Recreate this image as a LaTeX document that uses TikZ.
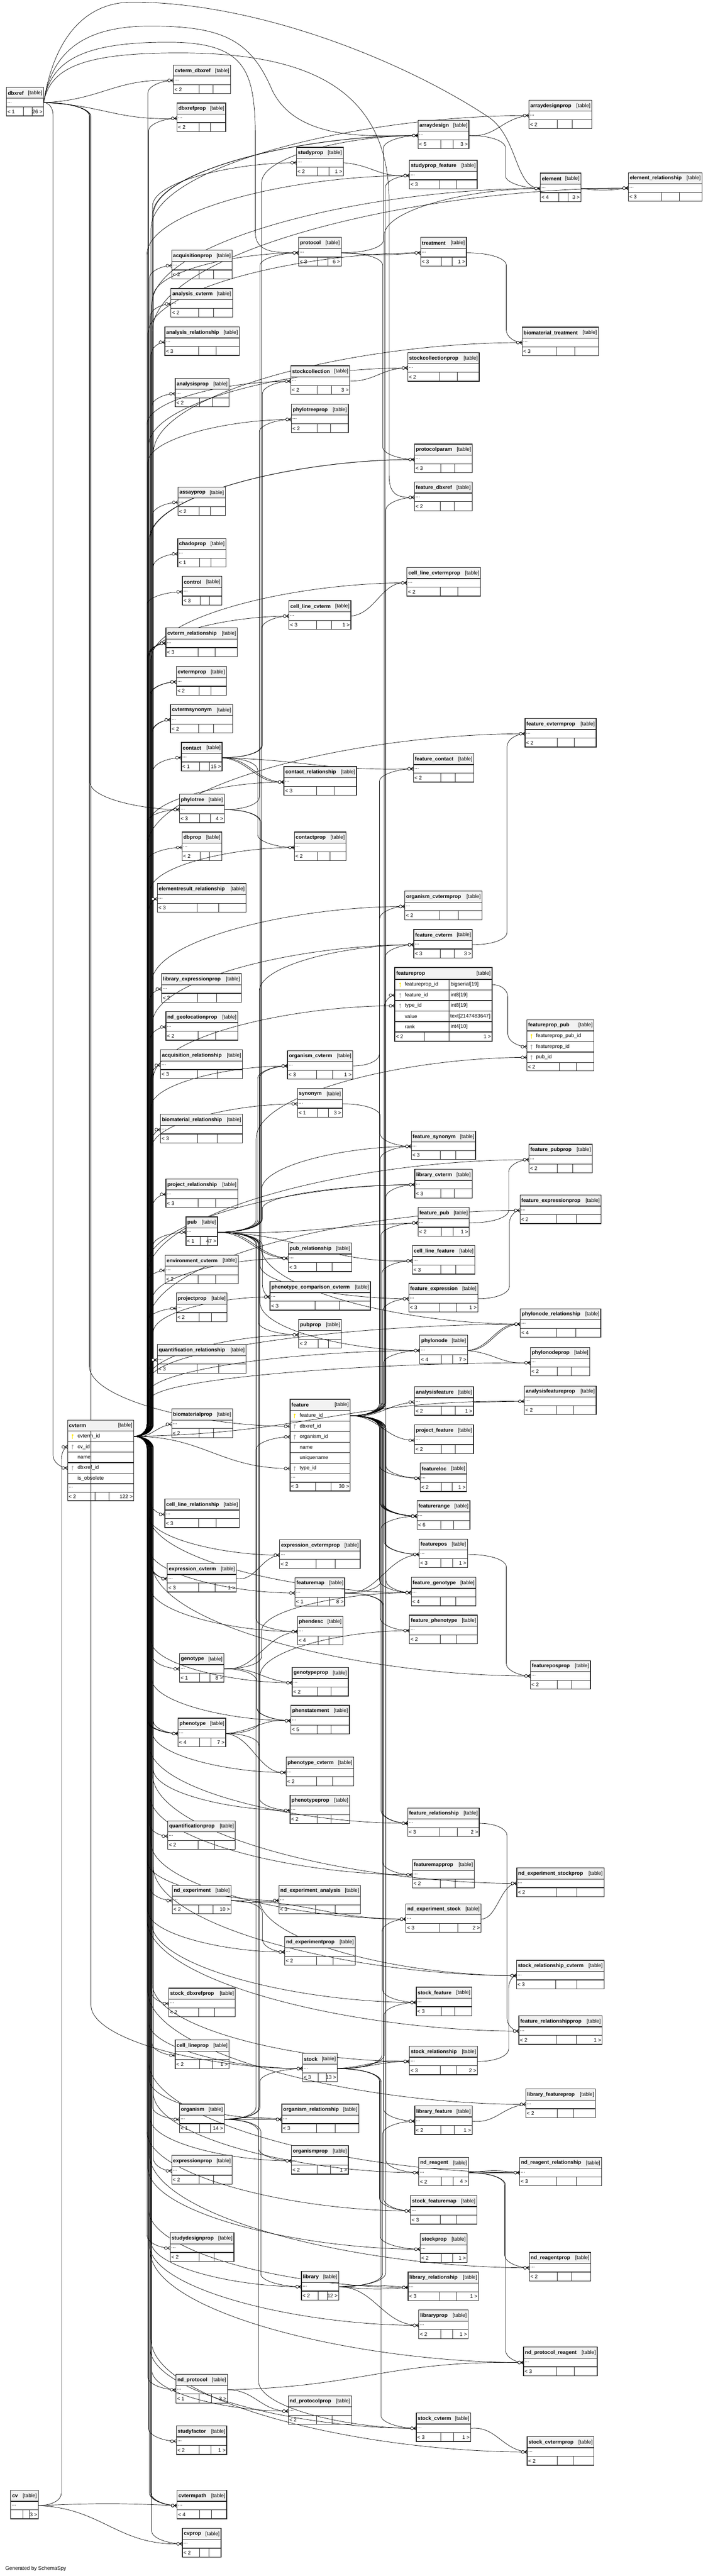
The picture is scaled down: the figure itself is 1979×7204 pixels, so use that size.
\documentclass[tikz,border=0pt]{standalone}
\usepackage{fontspec}
\setmainfont{Liberation Sans}
\tikzset{
  hdrfill/.style={fill=black!5},
  frame/.style={draw=black!85,line width=1.8pt},
  rowline/.style={draw=black!85,line width=1.8pt},
  celline/.style={draw=black!85,line width=1.1pt},
  fkline/.style={draw=black,line width=1.0pt},
  crowline/.style={draw=black,line width=1.0pt},
  txt/.style={inner sep=0pt,outer sep=0pt,font=\fontsize{14.5}{16}\selectfont},
}
\newif\ifdrawtbl
\newcommand\tbl[6]{%
 \ifdrawtbl
  \pgfmathsetmacro\xa{#2+0.45*(#4-#2)}%
  \pgfmathsetmacro\xb{#2+0.69*(#4-#2)}%
  \fill[hdrfill] (#2,#3) rectangle (#4,#3+31);
  \draw[rowline] (#2,#3+31) -- (#4,#3+31) (#2,#3+55) -- (#4,#3+55);
  \draw[celline] (\xa,#3+55) -- (\xa,#3+80) (\xb,#3+55) -- (\xb,#3+80);
  \draw[frame] (#2,#3) rectangle (#4,#3+80);
  \node[txt,anchor=west] (#1) at (#2+4,#3+16) {\bfseries\detokenize{#1}};
  \node[txt,anchor=east] (#1-h) at (#4-4,#3+16) {[table]};
  \node[txt,anchor=west] (#1-d) at (#2+3,#3+42) {...};
  \ifx\relax#5\relax\else\node[txt,anchor=west] (#1-l) at (#2+3,#3+68) {< #5};\fi
  \ifx\relax#6\relax\else\node[txt,anchor=east] (#1-r) at (#4-3,#3+68) {#6 >};\fi
 \else
  \coordinate (#1-i) at (#2,#3+43);
  \coordinate (#1-o) at (#4,#3+43);
 \fi
}
\newcommand\keyi[3]{\fill[#3] (#1,#2-3.5) circle[radius=2.7]; \draw[#3,line width=1.5pt] (#1,#2-2) -- (#1,#2+7);}
\newcommand\crow[1]{%
  \draw[crowline] (#1) ++(-8,0) -- ++(8,5) (#1) ++(-8,0) -- ++(8,-5) (#1) ++(-8,0) -- (#1);
  \draw[crowline,fill=white] (#1) ++(-12,0) circle[radius=4];}
\makeatletter
\newcommand\allmarks{}
\newcommand\addmark[1]{\g@addto@macro\allmarks{\crow{#1}}}
\makeatother
\newcount\fkn
\newcommand\fk[3]{%
 \global\advance\fkn by 1\relax
 \pgfpointanchor{#1}{center}\pgfgetlastxy{\fax}{\fay}%
 \pgfpointanchor{#2}{center}\pgfgetlastxy{\fbx}{\fby}%
 \pgfmathsetmacro\Ax{\fax}\pgfmathsetmacro\Ay{\fay}%
 \pgfmathsetmacro\Bx{\fbx}\pgfmathsetmacro\By{\fby}%
 \pgfmathsetmacro\Md{mod(\the\fkn,9)}%
 \pgfmathsetmacro\Cx{#3+(\Md-4)*2.2}%
 \pgfmathsetmacro\Dy{\By-\Ay}%
 \pgfmathsetmacro\ADy{abs(\Dy)}%
 \ifdim\ADy pt<110pt
   \pgfmathsetmacro\K{0.45*(\Bx-\Ax)}%
   \pgfmathsetmacro\Off{(mod(\the\fkn,3)-1)*7}%
   \pgfmathsetmacro\Pa{\Ax+\K}\pgfmathsetmacro\Pb{\Ay+\Off}%
   \pgfmathsetmacro\Pc{\Bx-\K}\pgfmathsetmacro\Pd{\By+\Off}%
   \draw[fkline] (\Ax pt,\Ay pt) .. controls (\Pa pt,\Pb pt) and (\Pc pt,\Pd pt) .. (\Bx pt,\By pt);
 \else
   \pgfmathsetmacro\S{\Dy>0 ? 1 : -1}%
   \pgfmathsetmacro\Ra{min(\ADy/2,max(35,0.3*(\Cx-\Ax)))}%
   \pgfmathsetmacro\Rb{min(\ADy/2,max(35,0.3*(\Bx-\Cx)))}%
   \pgfmathsetmacro\Qa{\Ax+0.6*(\Cx-\Ax)}%
   \pgfmathsetmacro\Qb{\Ay+\S*\Ra*0.45}%
   \pgfmathsetmacro\Qc{\Ay+\S*\Ra}%
   \pgfmathsetmacro\Qd{\By-\S*\Rb}%
   \pgfmathsetmacro\Qe{\By-\S*\Rb*0.45}%
   \pgfmathsetmacro\Qf{\Cx+0.55*(\Bx-\Cx)}%
   \draw[fkline] (\Ax pt,\Ay pt) .. controls (\Qa pt,\Ay pt) and (\Cx pt,\Qb pt) .. (\Cx pt,\Qc pt) -- (\Cx pt,\Qd pt) .. controls (\Cx pt,\Qe pt) and (\Qf pt,\By pt) .. (\Bx pt,\By pt);
 \fi
 \addmark{#2}%
}
\newcommand\Ce[1]{\fk{cvterm-o}{#1-i}{420}}
\newcommand\Pe[3]{\fk{#1-o}{#2-i}{#3}}
\newcommand\alltables{%
\tbl{dbxref}{18}{244}{122}{1}{26}
\tbl{cv}{30}{6964}{107}{}{3}
\tbl{cvterm_dbxref}{485}{182}{645}{2}{}
\tbl{dbxrefprop}{495}{288}{631}{2}{}
\tbl{acquisitionprop}{480}{700}{649}{2}{}
\tbl{analysis_cvterm}{478}{807}{650}{2}{}
\tbl{analysis_relationship}{461}{914}{669}{3}{}
\tbl{analysisprop}{490}{1058}{640}{2}{}
\tbl{assayprop}{498}{1362}{630}{2}{}
\tbl{chadoprop}{497}{1506}{632}{1}{}
\tbl{control}{510}{1612}{620}{3}{}
\tbl{cvterm_relationship}{464}{1756}{664}{3}{}
\tbl{cvtermprop}{493}{1864}{633}{2}{}
\tbl{cvtermsynonym}{477}{1970}{650}{2}{}
\tbl{contact}{507}{2076}{621}{1}{15}
\tbl{phylotree}{502}{2221}{627}{3}{4}
\tbl{dbprop}{509}{2327}{620}{2}{}
\tbl{elementresult_relationship}{440}{2471}{688}{3}{}
\tbl{library_expressionprop}{452}{2723}{675}{2}{}
\tbl{nd_geolocationprop}{464}{2829}{665}{2}{}
\tbl{acquisition_relationship}{449}{2936}{678}{3}{}
\tbl{biomaterial_relationship}{449}{3116}{678}{3}{}
\tbl{project_relationship}{464}{3297}{665}{3}{}
\tbl{pub}{520}{3403}{608}{1}{47}
\tbl{environment_cvterm}{462}{3510}{666}{2}{}
\tbl{projectprop}{493}{3616}{635}{2}{}
\tbl{quantification_relationship}{440}{3760}{688}{3}{}
\tbl{biomaterialprop}{480}{3940}{650}{2}{}
\tbl{cell_line_relationship}{461}{4192}{669}{3}{}
\tbl{expression_cvterm}{468}{4372}{661}{3}{1}
\tbl{genotype}{502}{4624}{626}{1}{8}
\tbl{phenotype}{498}{4805}{631}{4}{7}
\tbl{quantificationprop}{469}{5092}{658}{2}{}
\tbl{nd_experiment}{482}{5272}{646}{2}{10}
\tbl{stock_dbxrefprop}{472}{5560}{658}{2}{}
\tbl{cell_lineprop}{490}{5705}{640}{2}{1}
\tbl{organism}{502}{5884}{627}{1}{14}
\tbl{expressionprop}{480}{6028}{649}{2}{}
\tbl{studydesignprop}{476}{6244}{654}{2}{}
\tbl{nd_protocol}{492}{6640}{636}{1}{3}
\tbl{studyfactor}{493}{6784}{634}{2}{1}
\tbl{cvtermpath}{495}{6964}{634}{4}{}
\tbl{cvprop}{510}{7071}{618}{2}{}
\tbl{studyprop}{829}{412}{960}{2}{1}
\tbl{protocol}{835}{664}{954}{3}{6}
\tbl{stockcollection}{813}{1023}{978}{2}{3}
\tbl{phylotreeprop}{815}{1130}{974}{2}{}
\tbl{cell_line_cvterm}{808}{1680}{981}{3}{1}
\tbl{contact_relationship}{794}{2144}{997}{3}{}
\tbl{contactprop}{823}{2327}{968}{2}{}
\tbl{organism_cvterm}{804}{2938}{986}{3}{1}
\tbl{synonym}{832}{3044}{957}{1}{3}
\tbl{pub_relationship}{806}{3476}{983}{3}{}
\tbl{phenotype_comparison_cvterm}{755}{3584}{1036}{3}{}
\tbl{pubprop}{835}{3690}{955}{2}{}
\tbl{expression_cvtermprop}{782}{4306}{1007}{2}{}
\tbl{featuremap}{825}{4412}{964}{1}{8}
\tbl{phendesc}{832}{4520}{959}{4}{}
\tbl{genotypeprop}{817}{4663}{974}{2}{}
\tbl{phenstatement}{813}{4769}{977}{5}{}
\tbl{phenotype_cvterm}{800}{4914}{989}{2}{}
\tbl{phenotypeprop}{811}{5020}{978}{2}{}
\tbl{nd_experiment_analysis}{780}{5272}{1008}{3}{}
\tbl{nd_experimentprop}{796}{5416}{993}{2}{}
\tbl{stock}{846}{5742}{943}{3}{13}
\tbl{organism_relationship}{788}{5884}{1003}{3}{}
\tbl{organismprop}{815}{6000}{974}{2}{1}
\tbl{library}{843}{6352}{947}{2}{12}
\tbl{nd_protocolprop}{806}{6700}{983}{2}{}
\tbl{arraydesign}{1169}{336}{1311}{5}{3}
\tbl{studyprop_feature}{1145}{448}{1334}{3}{}
\tbl{treatment}{1176}{664}{1304}{3}{1}
\tbl{stockcollectionprop}{1140}{986}{1340}{2}{}
\tbl{protocolparam}{1159}{1242}{1321}{3}{}
\tbl{feature_dbxref}{1159}{1348}{1320}{2}{}
\tbl{cell_line_cvtermprop}{1138}{1587}{1344}{2}{}
\tbl{feature_contact}{1156}{2107}{1325}{2}{}
\tbl{organism_cvtermprop}{1132}{2492}{1348}{2}{}
\tbl{feature_cvterm}{1157}{2599}{1321}{3}{3}
\tbl{feature_synonym}{1150}{3163}{1330}{3}{}
\tbl{library_cvterm}{1160}{3270}{1320}{3}{}
\tbl{feature_pub}{1169}{3377}{1312}{2}{1}
\tbl{cell_line_feature}{1153}{3483}{1328}{3}{}
\tbl{feature_expression}{1143}{3589}{1336}{3}{1}
\tbl{phylonode}{1174}{3734}{1307}{4}{7}
\tbl{analysisfeature}{1159}{3878}{1324}{2}{1}
\tbl{project_feature}{1159}{3985}{1324}{2}{}
\tbl{featureloc}{1175}{4091}{1305}{2}{1}
\tbl{featurerange}{1166}{4197}{1314}{6}{}
\tbl{featurepos}{1172}{4304}{1307}{3}{1}
\tbl{feature_genotype}{1150}{4411}{1331}{4}{}
\tbl{feature_phenotype}{1145}{4517}{1335}{2}{}
\tbl{feature_relationship}{1140}{5056}{1340}{3}{2}
\tbl{featuremapprop}{1153}{5200}{1326}{2}{}
\tbl{nd_experiment_stock}{1135}{5324}{1345}{3}{2}
\tbl{stock_feature}{1164}{5557}{1319}{3}{}
\tbl{stock_relationship}{1145}{5722}{1335}{3}{2}
\tbl{library_feature}{1160}{5889}{1320}{2}{1}
\tbl{nd_reagent}{1171}{6033}{1310}{2}{4}
\tbl{stock_featuremap}{1148}{6140}{1333}{3}{}
\tbl{stockprop}{1175}{6247}{1306}{2}{1}
\tbl{library_relationship}{1141}{6354}{1338}{3}{1}
\tbl{libraryprop}{1171}{6460}{1309}{2}{1}
\tbl{stock_cvterm}{1164}{6748}{1316}{3}{1}
\tbl{arraydesignprop}{1479}{280}{1655}{2}{}
\tbl{element}{1511}{484}{1624}{4}{3}
\tbl{element_relationship}{1757}{483}{1963}{3}{}
\tbl{biomaterial_treatment}{1460}{915}{1673}{3}{}
\tbl{feature_cvtermprop}{1468}{2009}{1667}{2}{}
\tbl{feature_pubprop}{1479}{3200}{1656}{2}{}
\tbl{feature_expressionprop}{1454}{3342}{1681}{2}{}
\tbl{phylonode_relationship}{1455}{3660}{1680}{4}{}
\tbl{phylonodeprop}{1483}{3768}{1649}{2}{}
\tbl{analysisfeatureprop}{1466}{3876}{1667}{2}{}
\tbl{featureposprop}{1483}{4644}{1651}{2}{}
\tbl{nd_experiment_stockprop}{1445}{5224}{1689}{2}{}
\tbl{stock_relationship_cvterm}{1444}{5482}{1689}{3}{}
\tbl{feature_relationshipprop}{1451}{5637}{1684}{2}{1}
\tbl{library_featureprop}{1470}{5842}{1665}{2}{}
\tbl{nd_reagent_relationship}{1453}{6033}{1682}{3}{}
\tbl{nd_reagentprop}{1480}{6299}{1652}{2}{}
\tbl{nd_protocol_reagent}{1464}{6564}{1670}{3}{}
\tbl{stock_cvtermprop}{1474}{6814}{1661}{2}{}
}
\begin{document}
\begin{tikzpicture}[x=1pt,y=-1pt]
\useasboundingbox (0,0) rectangle (1979,7204);
\fill[white] (0,0) rectangle (1979,7204);
% ---- pass 1: coordinates
\drawtblfalse
\alltables
\coordinate (featureprop-o) at (1376,2753.75);
\coordinate (featureprop-feat) at (1104,2783.25);
\coordinate (featureprop-type) at (1104,2812.75);
\coordinate (featureprop_pub-fp) at (1473,2927.25);
\coordinate (featureprop_pub-pub) at (1473,2957);
\coordinate (feature-o) at (979,3959.25);
\coordinate (feature-dbx) at (811,3988.75);
\coordinate (feature-org) at (811,4018.25);
\coordinate (feature-type) at (811,4106.75);
\coordinate (cvterm-o) at (374,4016.75);
\coordinate (cvterm-cv) at (189,4046.25);
\coordinate (cvterm-dbx) at (189,4105.25);
% ================= connectors
\fk{dbxref-o}{cvterm-dbx}{155}
\fk{dbxref-o}{cvterm_dbxref-i}{300}
\fk{dbxref-o}{dbxrefprop-i}{300}
\fk{dbxref-o}{feature-dbx}{250}
\fk{dbxref-o}{phylotree-i}{250}
\fk{dbxref-o}{stock-i}{250}
\draw[fkline] (dbxref-o) .. controls (150,110) and (235,6) .. (370,6) .. controls (720,6) and (1130,170) .. (1370,330) .. controls (1450,390) and (1440,527) .. (element-i);
\draw[fkline] (dbxref-o) .. controls (145,140) and (240,73) .. (420,73) .. controls (620,73) and (700,110) .. (760,250) .. controls (830,400) and (1050,379) .. (arraydesign-i);
\draw[fkline] (dbxref-o) .. controls (140,170) and (230,118) .. (470,118) .. controls (690,118) and (712,200) .. (714,380) -- (714,650) .. controls (714,707) and (770,707) .. (protocol-i);
\draw[fkline] (dbxref-o) .. controls (140,190) and (230,148) .. (500,148) .. controls (850,148) and (1085,240) .. (1088,560) -- (1088,1330) .. controls (1088,1391) and (1120,1391) .. (feature_dbxref-i);
\addmark{element-i}\addmark{arraydesign-i}\addmark{protocol-i}\addmark{feature_dbxref-i}
\fk{cv-o}{cvterm-cv}{165}
\fk{cv-o}{cvtermpath-i}{300}
\fk{cv-o}{cvprop-i}{300}
\Ce{cvterm_dbxref}\Ce{dbxrefprop}\Ce{acquisitionprop}\Ce{analysis_cvterm}
\Ce{analysis_relationship}\Ce{analysisprop}\Ce{assayprop}\Ce{chadoprop}\Ce{control}
\Ce{cvterm_relationship}\Ce{cvterm_relationship}\Ce{cvterm_relationship}
\Ce{cvtermprop}\Ce{cvtermprop}\Ce{cvtermsynonym}\Ce{cvtermsynonym}
\Ce{contact}\Ce{phylotree}\Ce{dbprop}\Ce{elementresult_relationship}
\Ce{library_expressionprop}\Ce{nd_geolocationprop}\Ce{acquisition_relationship}
\Ce{biomaterial_relationship}\Ce{project_relationship}\Ce{pub}\Ce{environment_cvterm}
\Ce{projectprop}\Ce{quantification_relationship}\Ce{biomaterialprop}\Ce{cell_line_relationship}
\Ce{expression_cvterm}\Ce{expression_cvterm}\Ce{genotype}
\Ce{phenotype}\Ce{phenotype}\Ce{phenotype}\Ce{phenotype}
\Ce{quantificationprop}\Ce{nd_experiment}\Ce{stock_dbxrefprop}\Ce{cell_lineprop}
\Ce{organism}\Ce{expressionprop}\Ce{studydesignprop}\Ce{nd_protocol}\Ce{studyfactor}
\Ce{cvtermpath}\Ce{cvtermpath}\Ce{cvtermpath}\Ce{cvprop}
\Ce{studyprop}\Ce{protocol}\Ce{stockcollection}\Ce{phylotreeprop}\Ce{cell_line_cvterm}
\Ce{contact_relationship}\Ce{contactprop}\Ce{organism_cvterm}\Ce{synonym}\Ce{pub_relationship}
\Ce{phenotype_comparison_cvterm}\Ce{pubprop}\fk{cvterm-o}{feature-type}{420}
\Ce{expression_cvtermprop}\Ce{featuremap}\Ce{phendesc}\Ce{genotypeprop}\Ce{phenstatement}
\Ce{phenotype_cvterm}\Ce{phenotypeprop}\Ce{nd_experiment_analysis}\Ce{nd_experimentprop}
\Ce{stock}\Ce{organism_relationship}\Ce{organismprop}\Ce{library}\Ce{nd_protocolprop}
\Ce{arraydesign}\Ce{arraydesign}\Ce{studyprop_feature}\Ce{treatment}\Ce{stockcollectionprop}
\Ce{protocolparam}\Ce{protocolparam}\Ce{cell_line_cvtermprop}\Ce{organism_cvtermprop}
\Ce{feature_cvterm}\fk{cvterm-o}{featureprop-type}{420}\Ce{library_cvterm}\Ce{phylonode}
\Ce{feature_genotype}\Ce{feature_relationship}\Ce{featuremapprop}\Ce{nd_experiment_stock}
\Ce{stock_feature}\Ce{stock_relationship}\Ce{nd_reagent}\Ce{stock_featuremap}\Ce{stockprop}
\Ce{library_relationship}\Ce{libraryprop}\Ce{stock_cvterm}
\Ce{arraydesignprop}\Ce{element}\Ce{element_relationship}\Ce{biomaterial_treatment}
\Ce{feature_cvtermprop}\Ce{feature_pubprop}\Ce{feature_expressionprop}\Ce{phylonode_relationship}
\Ce{phylonodeprop}\Ce{analysisfeatureprop}\Ce{featureposprop}\Ce{nd_experiment_stockprop}
\Ce{stock_relationship_cvterm}\Ce{feature_relationshipprop}\Ce{library_featureprop}
\Ce{nd_reagent_relationship}\Ce{nd_reagentprop}\Ce{nd_protocol_reagent}\Ce{stock_cvtermprop}
\Pe{pub}{feature_pub}{725}\Pe{pub}{feature_synonym}{725}\Pe{pub}{library_cvterm}{725}
\fk{pub-o}{featureprop_pub-pub}{725}
\Pe{pub}{pub_relationship}{725}\Pe{pub}{pub_relationship}{725}\Pe{pub}{pubprop}{725}
\Pe{pub}{feature_cvterm}{725}\Pe{pub}{feature_expression}{725}\Pe{pub}{cell_line_feature}{725}
\Pe{pub}{cell_line_cvterm}{725}\Pe{pub}{phenotype_comparison_cvterm}{725}\Pe{pub}{phendesc}{725}
\Pe{pub}{phenstatement}{725}\Pe{pub}{organism_cvterm}{725}\Pe{pub}{stock_cvterm}{725}
\Pe{pub}{stock_relationship_cvterm}{725}\Pe{pub}{protocol}{725}
\fk{feature-o}{featureprop-feat}{1070}
\Pe{feature}{feature_cvterm}{1070}\Pe{feature}{feature_dbxref}{1070}\Pe{feature}{feature_contact}{1070}
\Pe{feature}{feature_synonym}{1070}\Pe{feature}{feature_pub}{1070}\Pe{feature}{cell_line_feature}{1070}
\Pe{feature}{feature_expression}{1070}\Pe{feature}{phylonode}{1070}\Pe{feature}{analysisfeature}{1070}
\Pe{feature}{project_feature}{1070}\Pe{feature}{featureloc}{1070}\Pe{feature}{featureloc}{1070}
\Pe{feature}{featurerange}{1070}\Pe{feature}{featurerange}{1070}\Pe{feature}{featurerange}{1070}
\Pe{feature}{featurerange}{1070}\Pe{feature}{featurerange}{1070}
\Pe{feature}{featurepos}{1070}\Pe{feature}{featurepos}{1070}
\Pe{feature}{feature_genotype}{1070}\Pe{feature}{feature_genotype}{1070}\Pe{feature}{feature_phenotype}{1070}
\Pe{feature}{feature_relationship}{1070}\Pe{feature}{feature_relationship}{1070}
\Pe{feature}{stock_feature}{1070}\Pe{feature}{library_feature}{1070}\Pe{feature}{element}{1070}
\Pe{feature}{studyprop_feature}{1070}\Pe{feature}{nd_reagent}{1070}
\fk{organism-o}{feature-org}{725}
\Pe{organism}{organism_relationship}{725}\Pe{organism}{organism_relationship}{725}
\Pe{organism}{organismprop}{725}\Pe{organism}{organism_cvterm}{725}\Pe{organism}{stock}{725}
\Pe{organism}{library}{725}
\Pe{contact}{arraydesign}{725}\Pe{contact}{stockcollection}{725}
\Pe{contact}{contact_relationship}{725}\Pe{contact}{contact_relationship}{725}
\Pe{contact}{contactprop}{725}\Pe{contact}{feature_contact}{725}
\Pe{phylotree}{phylotreeprop}{725}\Pe{phylotree}{phylonode}{725}\Pe{phylotree}{phylonode_relationship}{725}
\Pe{genotype}{feature_genotype}{725}\Pe{genotype}{genotypeprop}{725}
\Pe{genotype}{phendesc}{725}\Pe{genotype}{phenstatement}{725}
\Pe{phenotype}{phenstatement}{725}\Pe{phenotype}{phenotype_cvterm}{725}
\Pe{phenotype}{phenotypeprop}{725}\Pe{phenotype}{feature_phenotype}{725}
\Pe{nd_experiment}{nd_experiment_analysis}{725}\Pe{nd_experiment}{nd_experiment_stock}{725}
\Pe{nd_experiment}{nd_experimentprop}{725}
\Pe{expression_cvterm}{expression_cvtermprop}{725}
\Pe{nd_protocol}{nd_protocolprop}{725}\Pe{nd_protocol}{nd_protocol_reagent}{725}
\Pe{protocol}{treatment}{1070}\Pe{protocol}{protocolparam}{1070}\Pe{protocol}{arraydesign}{1070}
\Pe{studyprop}{studyprop_feature}{1070}
\Pe{stockcollection}{stockcollectionprop}{1070}
\Pe{cell_line_cvterm}{cell_line_cvtermprop}{1070}
\Pe{organism_cvterm}{organism_cvtermprop}{1070}
\Pe{synonym}{feature_synonym}{1070}
\Pe{featuremap}{featurerange}{1070}\Pe{featuremap}{featurepos}{1070}
\Pe{featuremap}{featuremapprop}{1070}\Pe{featuremap}{stock_featuremap}{1070}
\Pe{stock}{stock_feature}{1070}\Pe{stock}{stock_relationship}{1070}\Pe{stock}{stock_relationship}{1070}
\Pe{stock}{stock_featuremap}{1070}\Pe{stock}{stockprop}{1070}\Pe{stock}{stock_cvterm}{1070}
\Pe{stock}{nd_experiment_stock}{1070}
\Pe{library}{library_feature}{1070}\Pe{library}{library_relationship}{1070}
\Pe{library}{library_relationship}{1070}\Pe{library}{libraryprop}{1070}\Pe{library}{library_cvterm}{1070}
\Pe{arraydesign}{arraydesignprop}{1420}\Pe{arraydesign}{element}{1420}
\Pe{treatment}{biomaterial_treatment}{1420}
\Pe{feature_cvterm}{feature_cvtermprop}{1420}
\fk{featureprop-o}{featureprop_pub-fp}{1420}
\Pe{feature_pub}{feature_pubprop}{1420}
\Pe{feature_expression}{feature_expressionprop}{1420}
\Pe{phylonode}{phylonode_relationship}{1420}\Pe{phylonode}{phylonode_relationship}{1420}
\Pe{phylonode}{phylonodeprop}{1420}
\Pe{analysisfeature}{analysisfeatureprop}{1420}
\Pe{featurepos}{featureposprop}{1420}
\Pe{feature_relationship}{feature_relationshipprop}{1420}
\Pe{nd_experiment_stock}{nd_experiment_stockprop}{1420}
\Pe{stock_relationship}{stock_relationship_cvterm}{1420}
\Pe{library_feature}{library_featureprop}{1420}
\Pe{nd_reagent}{nd_reagent_relationship}{1420}\Pe{nd_reagent}{nd_reagent_relationship}{1420}
\Pe{nd_reagent}{nd_reagentprop}{1420}\Pe{nd_reagent}{nd_protocol_reagent}{1420}
\Pe{stock_cvterm}{stock_cvtermprop}{1420}
\Pe{element}{element_relationship}{1700}\Pe{element}{element_relationship}{1700}
% ---- markers
\allmarks
% ---- pass 2: tables
\drawtbltrue
\alltables
% featureprop (focus table)
\fill[hdrfill] (1104,2706) rectangle (1376,2739);
\foreach \yy in {2739,2768.5,2798,2827.5,2857,2886} {\draw[rowline] (1104,\yy) -- (1376,\yy);}
\draw[celline] (1256,2739) -- (1256,2912) (1186,2886) -- (1186,2912);
\draw[frame,line width=3pt] (1104,2706) rectangle (1376,2912);
\node[txt,anchor=west] (featureprop) at (1108,2722.5) {\bfseries featureprop};
\node[txt,anchor=east] (featureprop-h) at (1372,2722.5) {[table]};
\keyi{1119}{2753.75}{yellow!90!orange}
\keyi{1119}{2783.25}{black!35}
\keyi{1119}{2812.75}{black!35}
\node[txt,anchor=west] (fp-n1) at (1132,2753.75) {featureprop\_id};
\node[txt,anchor=west] (fp-n2) at (1132,2783.25) {feature\_id};
\node[txt,anchor=west] (fp-n3) at (1132,2812.75) {type\_id};
\node[txt,anchor=west] (fp-n4) at (1132,2842.25) {value};
\node[txt,anchor=west] (fp-n5) at (1132,2871.5) {rank};
\node[txt,anchor=west] (fp-t1) at (1260,2753.75) {bigserial[19]};
\node[txt,anchor=west] (fp-t2) at (1260,2783.25) {int8[19]};
\node[txt,anchor=west] (fp-t3) at (1260,2812.75) {int8[19]};
\node[txt,anchor=west] (fp-t4) at (1259,2842.25) {text[2147483647]};
\node[txt,anchor=west] (fp-t5) at (1260,2871.5) {int4[10]};
\node[txt,anchor=west] (fp-l) at (1107,2899) {< 2};
\node[txt,anchor=east] (fp-r) at (1373,2899) {1 >};
% featureprop_pub
\fill[hdrfill] (1473,2852) rectangle (1661,2883);
\foreach \yy in {2883,2912.5,2942,2972} {\draw[rowline] (1473,\yy) -- (1661,\yy);}
\draw[celline] (1564,2972) -- (1564,2995) (1612,2972) -- (1612,2995);
\draw[frame] (1473,2852) rectangle (1661,2995);
\node[txt,anchor=west] (featureprop_pub) at (1477,2867.5) {\bfseries featureprop\_pub};
\node[txt,anchor=east] (featureprop_pub-h) at (1657,2867.5) {[table]};
\keyi{1486}{2897.75}{yellow!90!orange}
\keyi{1486}{2927.25}{black!35}
\keyi{1486}{2957}{black!35}
\node[txt,anchor=west] (fpp-n1) at (1499,2897.75) {featureprop\_pub\_id};
\node[txt,anchor=west] (fpp-n2) at (1499,2927.25) {featureprop\_id};
\node[txt,anchor=west] (fpp-n3) at (1499,2957) {pub\_id};
\node[txt,anchor=west] (fpp-l) at (1476,2983.5) {< 2};
% feature
\fill[hdrfill] (811,3913) rectangle (979,3944.5);
\foreach \yy in {3944.5,3974,4003.5,4033,4062.5,4092,4121.5,4145} {\draw[rowline] (811,\yy) -- (979,\yy);}
\draw[celline] (883,4145) -- (883,4169.5) (925,4145) -- (925,4169.5);
\draw[frame] (811,3913) rectangle (979,4169.5);
\node[txt,anchor=west] (feature) at (815,3929) {\bfseries feature};
\node[txt,anchor=east] (feature-h) at (975,3929) {[table]};
\keyi{824}{3959.25}{yellow!90!orange}
\keyi{824}{3988.75}{black!35}
\keyi{824}{4018.25}{black!35}
\keyi{824}{4106.75}{black!35}
\node[txt,anchor=west] (ft-n1) at (838,3959.25) {feature\_id};
\node[txt,anchor=west] (ft-n2) at (838,3988.75) {dbxref\_id};
\node[txt,anchor=west] (ft-n3) at (838,4018.25) {organism\_id};
\node[txt,anchor=west] (ft-n4) at (838,4047.75) {name};
\node[txt,anchor=west] (ft-n5) at (838,4077.25) {uniquename};
\node[txt,anchor=west] (ft-n6) at (838,4106.75) {type\_id};
\node[txt,anchor=west] (ft-n7) at (814,4132) {...};
\node[txt,anchor=west] (ft-l) at (814,4157.25) {< 3};
\node[txt,anchor=east] (ft-r) at (976,4157.25) {30 >};
% cvterm
\fill[hdrfill] (189,3971) rectangle (374,4002);
\foreach \yy in {4002,4031.5,4061,4090.5,4120,4149.5,4173} {\draw[rowline] (189,\yy) -- (374,\yy);}
\draw[celline] (265,4173) -- (265,4197) (304,4173) -- (304,4197);
\draw[frame] (189,3971) rectangle (374,4197);
\node[txt,anchor=west] (cvterm) at (193,3986.5) {\bfseries cvterm};
\node[txt,anchor=east] (cvterm-h) at (370,3986.5) {[table]};
\keyi{203}{4016.75}{yellow!90!orange}
\keyi{203}{4046.25}{black!35}
\keyi{203}{4105.25}{black!35}
\node[txt,anchor=west] (cv-n1) at (217,4016.75) {cvterm\_id};
\node[txt,anchor=west] (cv-n2) at (217,4046.25) {cv\_id};
\node[txt,anchor=west] (cv-n3) at (217,4075.75) {name};
\node[txt,anchor=west] (cv-n4) at (217,4105.25) {dbxref\_id};
\node[txt,anchor=west] (cv-n5) at (217,4134.75) {is\_obsolete};
\node[txt,anchor=west] (cv-n6) at (192,4160) {...};
\node[txt,anchor=west] (cv-l) at (192,4185) {< 2};
\node[txt,anchor=east] (cv-r) at (371,4185) {122 >};
\node[txt,anchor=west] (gen) at (15,7184) {Generated by SchemaSpy};
\end{tikzpicture}
\end{document}
